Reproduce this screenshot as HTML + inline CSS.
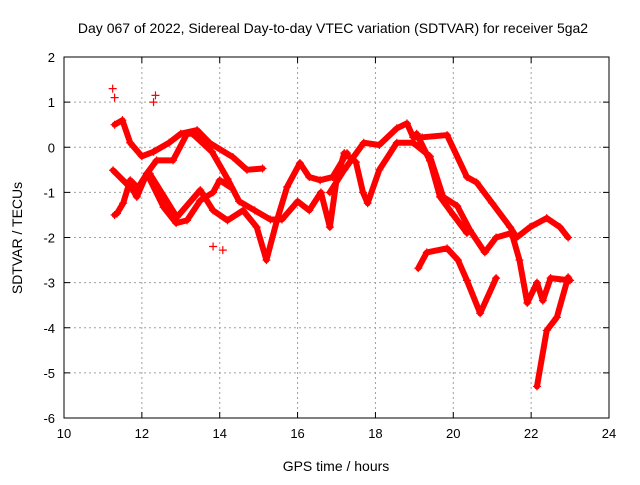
<!DOCTYPE html>
<html><head><meta charset="utf-8"><style>
body{margin:0;background:#fff}
svg text{font-family:"Liberation Sans",sans-serif;fill:#000}
</style></head><body>
<svg id="c" width="640" height="480" xmlns="http://www.w3.org/2000/svg"></svg>
<script>
const xTicks=[10,12,14,16,18,20,22,24];
const yTicks=[2,1,0,-1,-2,-3,-4,-5,-6];
const strandTop=[[11.3,0.5],[11.5,0.6],[11.7,0.1],[12.0,-0.2],[12.3,-0.1],[12.7,0.1],[13.0,0.3],[13.42,0.38],[13.75,0.09],[14.34,-0.22],[14.7,-0.5],[15.1,-0.47]];
const strandMid=[[12.2,-0.58],[12.9,-1.55],[13.5,-0.95],[13.83,-1.4],[14.2,-1.62],[14.6,-1.4],[14.95,-1.77],[15.2,-2.5],[15.47,-1.62],[15.73,-0.88],[16.06,-0.35],[16.3,-0.66],[16.58,-0.73],[16.9,-0.66],[17.27,-0.13]];
const strandThird=[[13.3,0.3],[13.8,-0.1],[14.2,-0.7],[14.5,-1.2],[14.9,-1.4],[15.3,-1.6],[15.6,-1.6],[16.0,-1.2],[16.3,-1.4],[16.6,-1.0],[16.83,-1.77],[17.0,-0.73],[17.2,-0.13],[17.5,-0.33],[17.68,-1.0],[17.8,-1.24],[18.1,-0.5],[18.55,0.1],[18.97,0.1],[19.4,-0.2],[19.74,-1.1],[20.1,-1.3],[20.43,-1.84],[20.81,-2.33],[21.1,-2.0],[21.5,-1.9],[21.7,-2.5],[21.9,-3.45],[22.15,-3.0],[22.3,-3.4],[22.5,-2.9],[23.0,-2.95]];
const strandLeft=[[11.26,-0.51],[11.77,-0.95],[11.87,-1.1],[12.13,-0.58],[12.38,-0.29],[12.8,-0.29],[13.16,0.3],[13.5,0.3]];
const strandLow=[[11.3,-1.5],[11.36,-1.47],[11.52,-1.24],[11.7,-0.73],[11.9,-0.9],[12.13,-0.58],[12.56,-1.33],[12.88,-1.68],[13.16,-1.62],[13.5,-1.18],[13.83,-1.0],[14.0,-0.73],[14.3,-0.9]];
const strandUpper=[[16.83,-1.0],[17.2,-0.5],[17.7,0.1],[18.1,0.05],[18.55,0.42],[18.81,0.53],[18.97,0.22],[19.2,0.22],[19.84,0.27],[20.35,-0.66],[20.6,-0.78],[21.0,-1.24],[21.46,-1.77],[21.63,-2.0],[21.97,-1.77],[22.4,-1.57],[22.74,-1.77],[22.95,-2.0]];
const strandDrop=[[19.06,0.3],[19.4,-0.3],[19.66,-1.1],[20.0,-1.5],[20.35,-1.9]];
const strandBottom=[[19.1,-2.68],[19.32,-2.33],[19.84,-2.24],[20.12,-2.5],[20.35,-2.95],[20.69,-3.68],[21.1,-2.9]];
const strandTail=[[22.15,-5.3],[22.4,-4.06],[22.66,-3.77],[22.95,-2.88]];
const cluster=[[13.83,-2.2],[14.08,-2.28],[11.25,1.3],[11.3,1.1],[12.35,1.15],[12.3,1.0]];
const series=[strandTop,strandMid,strandThird,strandLeft,strandLow,strandUpper,strandDrop,strandBottom,strandTail];
const L=64,R=609,T=57,B=418;
const X=v=>L+(v-10)/14*(R-L), Y=v=>T+(2-v)/8*(B-T);
const NS="http://www.w3.org/2000/svg", s=document.getElementById('c');
function mk(t,a,p){const e=document.createElementNS(NS,t);for(const k in a)e.setAttribute(k,a[k]);(p||s).appendChild(e);return e;}
const grid=mk('g',{});


xTicks.forEach(t=>{const x=X(t);
 if(t>10&&t<24)mk('line',{x1:x,x2:x,y1:T,y2:B,stroke:'#a0a0a0','stroke-dasharray':'2,3'},grid);
 mk('line',{x1:x,x2:x,y1:B,y2:B-6,stroke:'#000'});mk('line',{x1:x,x2:x,y1:T,y2:T+6,stroke:'#000'});
 const tx=mk('text',{x:x,y:B+20,'text-anchor':'middle','font-size':13});tx.textContent=t;
 
 });
yTicks.forEach(t=>{const y=Y(t);
 if(t<2&&t>-6)mk('line',{x1:L,x2:R,y1:y,y2:y,stroke:'#a0a0a0','stroke-dasharray':'2,3'},grid);
 mk('line',{x1:L,x2:L+6,y1:y,y2:y,stroke:'#000'});mk('line',{x1:R,x2:R-6,y1:y,y2:y,stroke:'#000'});
 const tx=mk('text',{x:L-9,y:y+5,'text-anchor':'end','font-size':13});tx.textContent=t;
 
 });
const fr=mk('rect',{x:L,y:T,width:R-L,height:B-T,fill:'none',stroke:'#000'});


const g=mk('g',{});


function plus(x,y){mk('path',{d:`M${x-4},${y}h8M${x},${y-4}v8`,stroke:'#f00','stroke-width':1.2},g);}
series.forEach(sr=>{
 const pl=mk('polyline',{points:sr.map(p=>X(p[0])+','+Y(p[1])).join(' '),fill:'none',stroke:'#f00','stroke-width':6,'stroke-linejoin':'round','stroke-linecap':'round'},g);
 
 
 sr.forEach(p=>plus(X(p[0]),Y(p[1])));
});
cluster.forEach(p=>plus(X(p[0]),Y(p[1])));
function lab(txt,a,name){const e=mk('text',a);e.textContent=txt;}
lab('Day 067 of 2022, Sidereal Day-to-day VTEC variation (SDTVAR) for receiver 5ga2',{x:333,y:33,'text-anchor':'middle','font-size':14},'chart-title');
lab('GPS time / hours',{x:336,y:471,'text-anchor':'middle','font-size':14},'x-axis-title');
lab('SDTVAR / TECUs',{x:0,y:0,'text-anchor':'middle','font-size':14,transform:'translate(22,238) rotate(-90)'},'y-axis-title');
</script>
</body></html>
